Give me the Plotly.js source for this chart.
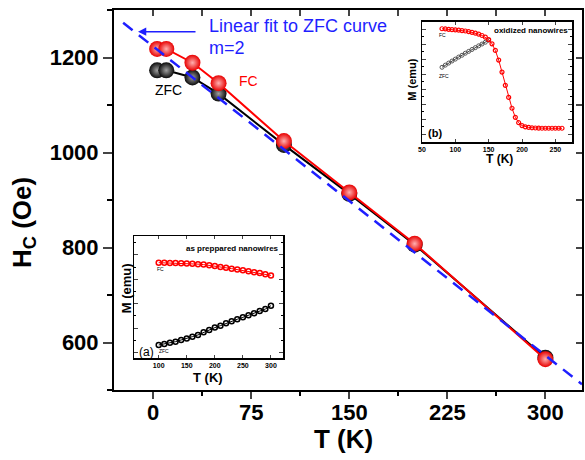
<!DOCTYPE html>
<html>
<head>
<meta charset="utf-8">
<script src="https://cdn.plot.ly/plotly-3.0.1.min.js"></script>
<style>html,body{margin:0;padding:0;background:#fff;}#chart{width:585px;height:460px;}</style>
</head>
<body>
<div id="chart"></div>
<script>
// ---- Main panel data: coercive field Hc (Oe) vs T (K)
const zfcT = [3, 10, 30, 50, 100, 150, 200, 300];
const zfcH = [1173, 1173, 1158, 1124, 1016, 913, 806, 568];
const fcT  = [3, 10, 30, 50, 100, 150, 200, 300];
const fcH  = [1218, 1218, 1189, 1146, 1024, 916, 808, 565];
// linear fit to ZFC curve (end points as drawn)
const fitT = [-23, 328];
const fitH = [1273, 512];

// ---- Inset (a): as preppared nanowires, M (arb.) vs T
const aT   = [100,110,120,130,140,150,160,170,180,190,200,210,220,230,240,250,260,270,280,290,300];
const aFC  = [0.782,0.781,0.780,0.779,0.777,0.775,0.773,0.770,0.766,0.761,0.754,0.747,0.740,0.733,0.726,0.719,0.711,0.704,0.697,0.688,0.678];
const aZFC = [0.109,0.117,0.128,0.136,0.150,0.161,0.177,0.191,0.212,0.231,0.251,0.267,0.286,0.302,0.319,0.335,0.352,0.368,0.387,0.403,0.430];

// ---- Inset (b): oxidized nanowires, M (arb.) vs T
const bFCT = [80,85,90,95,100,105,110,115,120,125,130,135,140,145,150,155,160,165,170,175,180,185,190,195,200,205,210,215,220,225,230,235,240,245,250,255,260];
const bFC  = [0.940,0.938,0.935,0.932,0.930,0.928,0.925,0.921,0.916,0.910,0.903,0.895,0.884,0.870,0.850,0.815,0.760,0.680,0.580,0.470,0.370,0.280,0.205,0.160,0.136,0.126,0.121,0.118,0.116,0.115,0.114,0.114,0.114,0.114,0.114,0.114,0.114];
const bZFCT = [80,85,90,95,100,105,110,115,120,125,130,135,140,145,150];
const bZFC  = [0.620,0.638,0.655,0.672,0.688,0.705,0.720,0.737,0.752,0.768,0.783,0.798,0.813,0.828,0.845];

// tick labels
const mainXTicks = [0, 75, 150, 225, 300];
const mainYTicks = [600, 800, 1000, 1200];
const insetATicks = [100, 150, 200, 250, 300];
const insetBTicks = [50, 100, 150, 200, 250];

const FONT = 'Liberation Sans, Arial, Helvetica, sans-serif';
const BLUE = '#1f1fff';
const RED = '#ff0000';

// plot area in pixels: x 114..582, y 10..390
const L = 114, R = 582, T0 = 10, B = 390;
function px(x){ return (x - L) / (R - L); }
function py(y){ return (B - y) / (B - T0); }

const traces = [
  {x: zfcT, y: zfcH, xaxis:'x', yaxis:'y', mode:'lines+markers',
   line:{color:'#000', width:2},
   marker:{size:16, color:'#0a0a0a', gradient:{type:'radial', color:'#a0a0a0'}}},
  {x: fcT, y: fcH, xaxis:'x', yaxis:'y', mode:'lines+markers',
   line:{color:RED, width:2},
   marker:{size:16, color:'#e80000', gradient:{type:'radial', color:'#ffb0b0'}}},
  {x: fitT, y: fitH, xaxis:'x', yaxis:'y', mode:'lines',
   line:{color:BLUE, width:2.5, dash:'12px,8px'}},
  // invisible carriers so the mirrored top / right frame axes (inward ticks) get drawn
  {x: fitT, y: fitH, xaxis:'x2', yaxis:'y', mode:'lines', opacity:0, line:{width:0}, hoverinfo:'skip'},
  {x: fitT, y: fitH, xaxis:'x', yaxis:'y2', mode:'lines', opacity:0, line:{width:0}, hoverinfo:'skip'},
  // inset a
  {x: aT, y: aFC, xaxis:'x3', yaxis:'y3', mode:'lines+markers',
   line:{color:RED, width:1}, marker:{symbol:'circle-open', size:5, color:RED, line:{width:1.5, color:RED}}},
  {x: aT, y: aZFC, xaxis:'x3', yaxis:'y3', mode:'lines+markers',
   line:{color:'#000', width:1}, marker:{symbol:'circle-open', size:5, color:'#000', line:{width:1.5, color:'#000'}}},
  // inset b
  {x: bZFCT, y: bZFC, xaxis:'x4', yaxis:'y4', mode:'lines+markers',
   line:{color:'#444', width:1}, marker:{symbol:'circle-open', size:4, color:'#555', line:{width:1, color:'#555'}}},
  {x: bFCT, y: bFC, xaxis:'x4', yaxis:'y4', mode:'lines+markers',
   line:{color:RED, width:1}, marker:{symbol:'circle-open', size:4, color:RED, line:{width:1.2, color:RED}}}
];

const ax = {showgrid:false, zeroline:false, showline:true, linecolor:'#000'};

function ann(x, y, text, size, opts){
  return Object.assign({xref:'paper', yref:'paper', x:px(x), y:py(y), text:text, showarrow:false,
    xanchor:'center', yanchor:'middle', font:{family:FONT, size:size, color:'#000'}}, opts || {});
}

const annotations = [
  ann(23, 223, 'H<sub>C</sub> (Oe)', 26, {textangle:-90, font:{family:FONT, size:26, color:'#000', weight:'bold'}}),
  ann(343, 439, 'T (K)', 26, {font:{family:FONT, size:26, color:'#000', weight:'bold'}}),
  {xref:'paper', yref:'paper', x:px(138), y:py(31.7), ax:59, ay:0, axref:'pixel', ayref:'pixel',
   text:'', showarrow:true, arrowhead:2, arrowsize:1.1, arrowwidth:1.5, arrowcolor:BLUE, standoff:0, startstandoff:0},
  ann(206.5, 26.5, 'Linear fit to ZFC curve', 18, {xanchor:'left', font:{family:FONT, size:18, color:BLUE}}),
  ann(206.5, 47.5, 'm=2', 18, {xanchor:'left', font:{family:FONT, size:18, color:BLUE}}),
  ann(248, 81, 'FC', 14, {font:{family:FONT, size:14, color:RED}}),
  ann(168, 90, 'ZFC', 14, {font:{family:FONT, size:14, color:'#000'}}),
  // inset a labels
  ann(232, 248.3, 'as preppared nanowires', 8, {font:{family:FONT, size:8, color:'#000', weight:'bold'}}),
  ann(160, 268.5, 'FC', 5, {font:{family:FONT, size:5, color:'#000'}}),
  ann(163.5, 351, 'ZFC', 5, {font:{family:FONT, size:5, color:'#000'}}),
  ann(146.5, 351.5, '(a)', 12, {font:{family:FONT, size:12, color:'#000'}}),
  ann(126.3, 288, 'M (emu)', 13, {textangle:-90, font:{family:FONT, size:13, color:'#000', weight:'bold'}}),
  ann(208, 377, 'T (K)', 13, {font:{family:FONT, size:13, color:'#000', weight:'bold'}}),
  // inset b labels
  ann(531, 30.5, 'oxidized nanowires', 8, {font:{family:FONT, size:8, color:'#000', weight:'bold'}}),
  ann(442, 34.5, 'FC', 5, {font:{family:FONT, size:5, color:'#000'}}),
  ann(443.5, 76, 'ZFC', 5, {font:{family:FONT, size:5, color:'#000'}}),
  ann(435, 132.5, '(b)', 11, {font:{family:FONT, size:11, color:'#000', weight:'bold'}}),
  ann(411.7, 79, 'M (emu)', 11, {textangle:-90, font:{family:FONT, size:11, color:'#000', weight:'bold'}}),
  ann(499, 159.5, 'T (K)', 12, {font:{family:FONT, size:12, color:'#000', weight:'bold'}})
];

const layout = {
  width:585, height:460,
  margin:{l:L, r:585-R, t:T0, b:460-B, pad:0},
  paper_bgcolor:'#fff', plot_bgcolor:'#fff',
  showlegend:false,
  font:{family:FONT, color:'#000'},
  xaxis: Object.assign({}, ax, {domain:[0,1], anchor:'y', range:[-30,328],
    tickmode:'array', tickvals:mainXTicks, ticktext:mainXTicks.map(String),
    ticks:'outside', ticklen:7, tickwidth:2, linewidth:2, ticklabelstandoff:-5,
    tickfont:{family:FONT, size:22, color:'#000', weight:'bold'},
    minor:{tick0:0, dtick:37.5, ticks:'outside', ticklen:4, tickwidth:2, tickcolor:'#000', showgrid:false}}),
  xaxis2: Object.assign({}, ax, {overlaying:'x', anchor:'y', side:'top', range:[-30,328],
    tick0:0, dtick:37.5, ticks:'inside', ticklen:6, tickwidth:2, linewidth:2, showticklabels:false}),
  yaxis: Object.assign({}, ax, {domain:[0,1], anchor:'x', range:[500,1300],
    tickmode:'array', tickvals:mainYTicks, ticktext:mainYTicks.map(String),
    ticks:'outside', ticklen:9, tickwidth:2, linewidth:2,
    tickfont:{family:FONT, size:22, color:'#000', weight:'bold'},
    minor:{tick0:0, dtick:100, ticks:'outside', ticklen:5, tickwidth:2, tickcolor:'#000', showgrid:false}}),
  yaxis2: Object.assign({}, ax, {overlaying:'y', anchor:'x', side:'right', range:[500,1300],
    tick0:0, dtick:100, ticks:'inside', ticklen:6, tickwidth:2, linewidth:2, showticklabels:false}),
  // inset a
  xaxis3: Object.assign({}, ax, {domain:[px(134), px(283.3)], anchor:'y3', range:[56,322],
    tickmode:'array', tickvals:insetATicks, ticktext:insetATicks.map(String),
    ticks:'inside', ticklen:3, tickwidth:1, linewidth:1.5, mirror:'allticks',
    tickfont:{family:FONT, size:7, color:'#000', weight:'bold'}}),
  yaxis3: Object.assign({}, ax, {domain:[py(358.3), py(236)], anchor:'x3', range:[0,1],
    tick0:0.046, dtick:0.2, ticks:'inside', ticklen:4, tickwidth:1, linewidth:1.5, mirror:'allticks',
    showticklabels:false,
    minor:{tick0:0.046, dtick:0.1, ticks:'inside', ticklen:2, tickwidth:1, tickcolor:'#000', showgrid:false}}),
  // inset b
  xaxis4: Object.assign({}, ax, {domain:[px(422), px(572)], anchor:'y4', range:[50,275],
    tickmode:'array', tickvals:insetBTicks, ticktext:insetBTicks.map(String),
    ticks:'inside', ticklen:3, tickwidth:1, linewidth:1.5, mirror:'allticks',
    tickfont:{family:FONT, size:7, color:'#000', weight:'bold'}}),
  yaxis4: Object.assign({}, ax, {domain:[py(142), py(21.5)], anchor:'x4', range:[0,1],
    tick0:0.0625, dtick:0.125, ticks:'inside', ticklen:4, tickwidth:1, linewidth:1.5, mirror:'allticks',
    showticklabels:false,
    minor:{tick0:0, dtick:0.0625, ticks:'inside', ticklen:2, tickwidth:1, tickcolor:'#000', showgrid:false}}),
  annotations: annotations
};

Plotly.newPlot('chart', traces, layout, {displayModeBar:false, staticPlot:true});
</script>
</body>
</html>
